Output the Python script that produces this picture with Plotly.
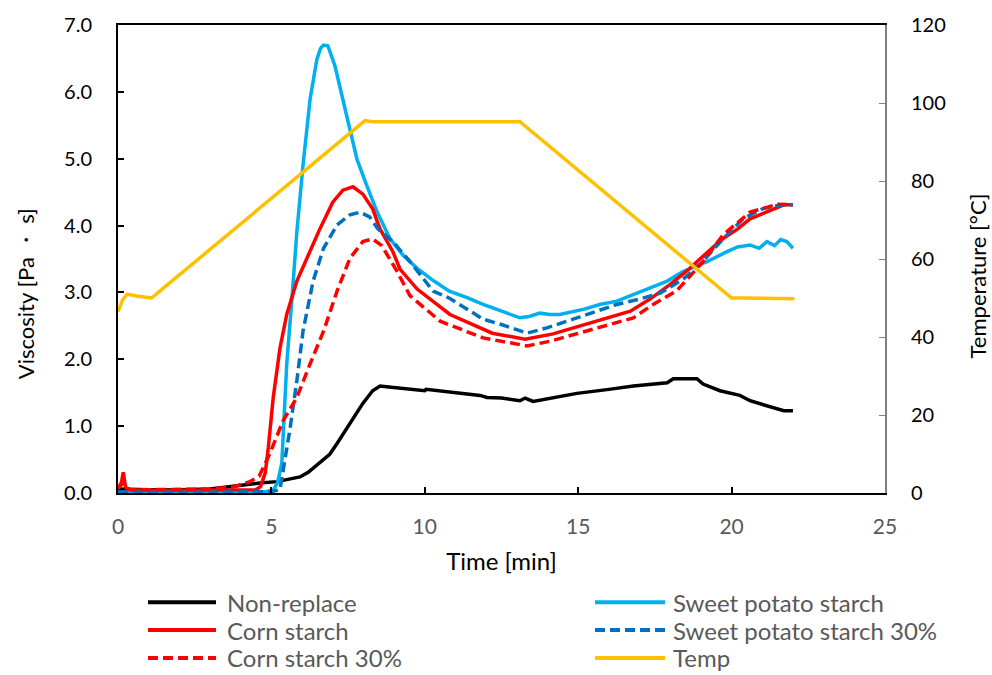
import plotly.graph_objects as go

# ---------------- data ----------------
t_non = [0, 0.5, 1.0, 2.0, 3.0, 3.55, 4.0, 4.63, 5.18, 5.5, 5.93, 6.2, 6.58, 6.9, 7.14, 7.56, 7.98, 8.3, 8.54, 8.75,
         9.19, 10.0, 10.04, 11.15, 11.8, 12.03, 12.5, 13.1, 13.27, 13.53, 14.2, 14.96, 16.0, 16.8, 17.9, 18.1,
         18.87, 19.07, 19.62, 20.27, 20.6, 21.2, 21.7, 22.0]
v_non = [0.06, 0.05, 0.05, 0.05, 0.06, 0.09, 0.12, 0.15, 0.17, 0.20, 0.24, 0.31, 0.45, 0.58, 0.74, 1.04, 1.34, 1.53, 1.60, 1.59,
         1.57, 1.53, 1.55, 1.49, 1.46, 1.43, 1.42, 1.38, 1.42, 1.37, 1.42, 1.49, 1.55, 1.60, 1.65, 1.71,
         1.71, 1.63, 1.53, 1.46, 1.38, 1.30, 1.23, 1.23]

t_sp = [0, 0.5, 1.0, 2.0, 3.0, 4.0, 4.4, 4.8, 5.05, 5.2, 5.34, 5.5, 5.67, 5.83, 6.03, 6.26, 6.48, 6.6, 6.7,
        6.84, 7.07, 7.33, 7.56, 7.79, 8.1, 8.44, 8.87, 9.3, 9.75, 10.3, 10.8, 11.4, 11.9, 12.5, 13.1, 13.4,
        13.75, 14.08, 14.4, 15.2, 15.7, 16.26, 16.8, 17.34, 17.9, 18.4, 19.2, 19.85, 20.2, 20.6, 20.9, 21.15,
        21.4, 21.6, 21.8, 22.0]
v_sp = [0.02, 0.01, 0.01, 0.01, 0.01, 0.01, 0.01, 0.02, 0.04, 0.15, 0.45, 1.93, 2.91, 3.91, 4.90, 5.89, 6.48, 6.65, 6.70,
        6.69, 6.39, 5.89, 5.44, 4.99, 4.61, 4.21, 3.80, 3.55, 3.36, 3.17, 3.02, 2.92, 2.82, 2.72, 2.62, 2.64,
        2.69, 2.67, 2.67, 2.75, 2.82, 2.87, 2.97, 3.06, 3.17, 3.31, 3.46, 3.61, 3.68, 3.71, 3.66, 3.76,
        3.70, 3.79, 3.76, 3.66]

t_cs = [0, 0.1, 0.17, 0.25, 0.4, 1.0, 2.0, 3.0, 4.0, 4.5, 4.65, 4.8, 4.9, 5.06, 5.28, 5.5, 5.83, 6.16, 6.58,
        7.0, 7.33, 7.66, 7.98, 8.3, 8.54, 8.96, 9.19, 9.75, 10.82, 12.2, 13.27, 14.18, 15.28, 16.7, 17.34,
        18.0, 18.64, 18.87, 19.7, 20.2, 20.6, 21.15, 21.7, 22.0]
v_cs = [0.08, 0.12, 0.31, 0.08, 0.05, 0.04, 0.04, 0.04, 0.05, 0.05, 0.10, 0.30, 0.68, 1.43, 2.17, 2.67, 3.17, 3.51, 3.95,
        4.35, 4.53, 4.58, 4.47, 4.25, 3.95, 3.61, 3.35, 3.05, 2.67, 2.39, 2.30, 2.38, 2.53, 2.72, 2.90,
        3.12, 3.36, 3.46, 3.80, 3.95, 4.10, 4.20, 4.31, 4.31]

t_sp30 = [0, 0.5, 1.0, 2.0, 3.0, 4.0, 4.6, 5.0, 5.28, 5.6, 5.83, 6.03, 6.36, 6.7, 7.14, 7.56, 7.89, 8.2, 8.47,
          8.96, 9.52, 10.27, 10.82, 11.9, 12.5, 13.33, 13.98, 14.63, 15.5, 16.26, 17.0, 17.67, 18.4, 18.97,
          19.72, 20.37, 21.0, 21.5, 22.0]
v_sp30 = [0.02, 0.01, 0.01, 0.01, 0.01, 0.02, 0.02, 0.02, 0.05, 0.94, 1.68, 2.42, 3.17, 3.66, 4.01, 4.16, 4.20, 4.13, 3.95,
          3.76, 3.46, 3.02, 2.91, 2.60, 2.52, 2.39, 2.47, 2.57, 2.70, 2.82, 2.90, 2.99, 3.19, 3.42,
          3.80, 4.10, 4.25, 4.30, 4.31]

t_cs30 = [0, 0.1, 0.2, 0.4, 1.0, 2.0, 3.0, 3.75, 4.3, 4.6, 4.95, 5.38, 5.83, 6.26, 6.7, 7.14, 7.56, 7.98, 8.3,
          8.6, 9.1, 9.52, 10.5, 11.9, 13.33, 14.08, 15.28, 16.8, 17.44, 18.2, 18.4, 19.07, 19.72, 20.6, 21.5, 22.0]
v_cs30 = [0.06, 0.15, 0.07, 0.05, 0.05, 0.05, 0.06, 0.09, 0.17, 0.25, 0.59, 1.08, 1.43, 1.93, 2.42, 3.02, 3.51, 3.76, 3.80,
          3.70, 3.31, 2.95, 2.57, 2.32, 2.20, 2.27, 2.42, 2.62, 2.82, 3.02, 3.12, 3.46, 3.86, 4.20, 4.32, 4.31]

t_temp = [0, 0.15, 0.3, 0.6, 1.1, 1.4, 8.05, 8.3, 13.1, 20.0, 20.3, 22.05]
v_temp = [46.5, 49.5, 51.0, 50.5, 50.0, 52.0, 95.5, 95.2, 95.2, 50.0, 50.0, 49.8]

x_ticks = [0, 5, 10, 15, 20, 25]

series = [
    ("Non-replace", t_non, v_non, "#000000", "solid", "y"),
    ("Sweet potato starch", t_sp, v_sp, "#00B0F0", "solid", "y"),
    ("Corn starch", t_cs, v_cs, "#FF0000", "solid", "y"),
    ("Sweet potato starch 30%", t_sp30, v_sp30, "#0070C0", "10px,5px", "y"),
    ("Corn starch 30%", t_cs30, v_cs30, "#FF0000", "10px,5px", "y"),
    ("Temp", t_temp, v_temp, "#FFC000", "solid", "y2"),
]

FONT = "Lato"
fig = go.Figure()
for name, xs, ys, col, dash, ax in series:
    fig.add_trace(go.Scatter(x=xs, y=ys, name=name, mode="lines", yaxis=ax,
                             line=dict(color=col, width=3.5, dash=dash), showlegend=False))

# manual legend (two columns, three rows)
rows_y = [-0.2335, -0.293, -0.3524]
cols = [(0.0391, 0.1278, 0.1395), (0.6219, 0.7132, 0.7210)]
for i, (name, xs, ys, col, dash, ax) in enumerate(series):
    r, c = divmod(i, 2)
    x0, x1, xt = cols[c]
    yy = rows_y[r]
    fig.add_shape(type="line", xref="paper", yref="paper", x0=x0, x1=x1, y0=yy, y1=yy,
                  line=dict(color=col, width=4, dash=dash))
    fig.add_annotation(xref="paper", yref="paper", x=xt, y=yy, text=name, showarrow=False,
                       xanchor="left", yanchor="middle",
                       font=dict(family=FONT, size=24, color="#595959"))

# axis titles for the two value axes (placed as in the reference)
fig.add_annotation(xref="paper", yref="paper", x=-0.1213, y=0.4268, text="Viscosity [Pa ・ s]",
                   textangle=-90, showarrow=False, xanchor="center", yanchor="middle",
                   font=dict(family=FONT, size=22, color="#000000"))
fig.add_annotation(xref="paper", yref="paper", x=1.12, y=0.4628, text="Temperature [°C]",
                   textangle=-90, showarrow=False, xanchor="center", yanchor="middle",
                   font=dict(family=FONT, size=22, color="#000000"))

fig.update_layout(
    width=992, height=675,
    margin=dict(l=118, r=107, t=22, b=182),
    paper_bgcolor="white", plot_bgcolor="white",
    font=dict(family=FONT, size=20, color="#000000"),
    xaxis=dict(range=[0, 25], tickvals=x_ticks, ticks="inside", ticklen=6, tickwidth=2,
               tickcolor="#000000", showline=True, linecolor="#000000", linewidth=2, mirror=True,
               showgrid=False, zeroline=False, tickfont=dict(color="#595959", size=21),
               ticklabelstandoff=14,
               title=dict(text="Time [min]", standoff=16, font=dict(size=24))),
    yaxis=dict(range=[0, 7], dtick=1, tickformat=".1f", ticks="inside", ticklen=6, tickwidth=2,
               tickcolor="#000000", showline=True, linecolor="#000000", linewidth=2,
               showgrid=False, zeroline=False, ticklabelstandoff=20, tickfont=dict(size=20)),
    yaxis2=dict(range=[0, 120], dtick=20, overlaying="y", side="right", ticks="inside", ticklen=6,
                tickwidth=1, tickcolor="#808080", showline=True, linecolor="#808080", linewidth=2,
                showgrid=False, zeroline=False, ticklabelstandoff=20, tickfont=dict(size=20)),
)

fig.write_html("out.html")
